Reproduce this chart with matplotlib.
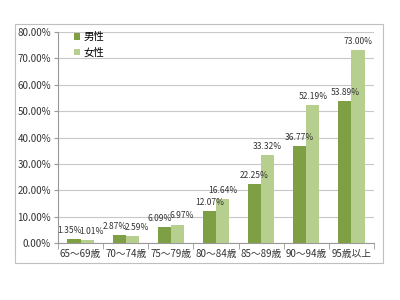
import matplotlib
matplotlib.use("Agg")
import matplotlib.pyplot as plt
from matplotlib.patches import Rectangle
from matplotlib.transforms import offset_copy
import numpy as np

plt.rcParams['font.family'] = ['Noto Sans CJK JP', 'DejaVu Sans']

categories = ["65〜69歳", "70〜74歳", "75〜79歳", "80〜84歳", "85〜89歳", "90〜94歳", "95歳以上"]
male = [1.35, 2.87, 6.09, 12.07, 22.25, 36.77, 53.89]
female = [1.01, 2.59, 6.97, 16.64, 33.32, 52.19, 73.00]
yticks = [0, 10, 20, 30, 40, 50, 60, 70, 80]

c_male = "#7f9f45"
c_female = "#b6cf8e"

fig = plt.figure(figsize=(4, 3), dpi=100)
fig.patches.append(Rectangle((15/400, 1-263/300), (383-15)/400, (263-24)/300,
                             transform=fig.transFigure, fill=False, ec="#bfbfbf", lw=0.8))
ax = fig.add_axes([58/400, 1-243/300, (374-58)/400, (243-32)/300])

x = np.arange(len(categories))
w = 0.29
ax.bar(x - w/2, male, w, color=c_male, label="男性", zorder=3)
ax.bar(x + w/2, female, w, color=c_female, label="女性", zorder=3)

for i in range(len(categories)):
    close = abs(male[i] - female[i]) < 4
    dx = 3.2 if close else 0
    tl = offset_copy(ax.transData, fig=fig, x=-dx, y=3, units='points')
    tr = offset_copy(ax.transData, fig=fig, x=dx, y=3, units='points')
    ax.text(x[i] - w/2, male[i], f"{male[i]:.2f}%", ha="center", va="bottom", fontsize=6.1,
            color="#333333", zorder=4, transform=tl)
    ax.text(x[i] + w/2, female[i], f"{female[i]:.2f}%", ha="center", va="bottom", fontsize=6.1,
            color="#333333", zorder=4, transform=tr)

ax.set_xlim(-0.5, len(categories) - 0.5)
ax.set_ylim(0, 80)
ax.set_yticks(yticks)
ax.set_yticklabels([f"{t:.2f}%" for t in yticks], fontsize=7, color="#333333")
ax.set_xticks(x)
ax.set_xticklabels(categories, fontsize=7, color="#333333")
ax.set_xticks(np.arange(-0.5, len(categories), 1), minor=True)
ax.tick_params(axis='x', which='major', length=0, pad=4)
ax.tick_params(axis='x', which='minor', length=4, color="#999999")
ax.tick_params(axis='y', length=3, color="#999999", pad=2)
ax.grid(axis='y', color="#c8c8c8", lw=0.8, zorder=0)
for s in ["top", "right"]:
    ax.spines[s].set_visible(False)
ax.spines["left"].set_color("#999999")
ax.spines["bottom"].set_color("#999999")

ax.legend(loc="upper left", bbox_to_anchor=(0.02, 1.045), frameon=False, fontsize=7.5,
          handlelength=0.6, handleheight=0.6, handletextpad=0.3, labelspacing=0.55)

fig.savefig("out.png", dpi=100)
